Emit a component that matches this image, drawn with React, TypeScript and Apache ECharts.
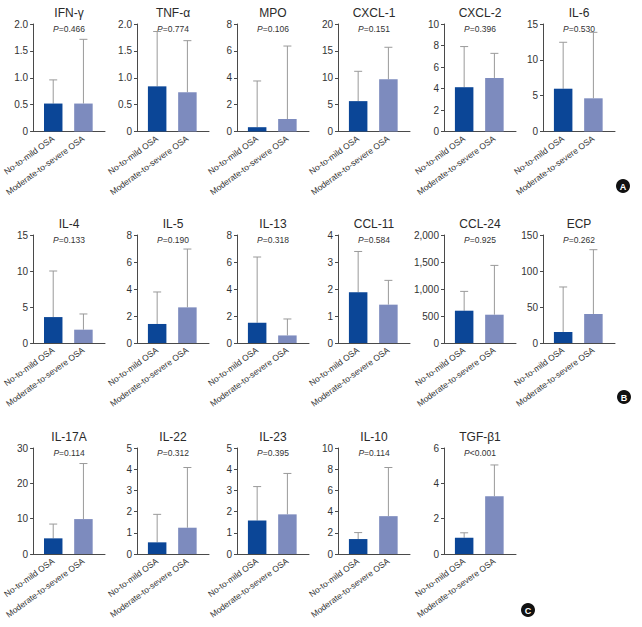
import React, { useEffect, useRef } from "react";
import * as echarts from "echarts";

// ---- data ----
const categories = ["No-to-mild OSA", "Moderate-to-severe OSA"];
const markers = ["IFN-γ", "TNF-α", "MPO", "CXCL-1", "CXCL-2", "IL-6", "IL-4", "IL-5", "IL-13", "CCL-11", "CCL-24", "ECP", "IL-17A", "IL-22", "IL-23", "IL-10", "TGF-β1"];
const mildMeans = [0.52, 0.84, 0.32, 5.65, 4.12, 5.97, 3.6, 1.41, 1.5, 1.88, 598, 15.3, 4.43, 0.55, 1.58, 1.41, 0.92];
const mildUpper = [0.96, 1.86, 3.76, 11.2, 7.9, 12.45, 10.0, 3.78, 6.37, 3.39, 956, 77.8, 8.47, 1.87, 3.18, 2.02, 1.2];
const severeMeans = [0.52, 0.73, 0.93, 9.7, 4.98, 4.63, 1.85, 2.64, 0.56, 1.42, 524, 40.3, 9.88, 1.24, 1.87, 3.57, 3.27];
const severeUpper = [1.715, 1.69, 6.36, 15.67, 7.27, 13.84, 4.03, 6.96, 1.78, 2.32, 1437, 129.6, 25.6, 4.08, 3.8, 8.16, 5.04];
const pValues = ["=0.466", "=0.774", "=0.106", "=0.151", "=0.396", "=0.530", "=0.133", "=0.190", "=0.318", "=0.584", "=0.925", "=0.262", "=0.114", "=0.312", "=0.395", "=0.114", "<0.001"];
const yMax = [2, 2, 8, 20, 10, 15, 15, 8, 8, 4, 2000, 150, 30, 5, 5, 10, 6];
const yStep = [0.5, 0.5, 2, 5, 2, 5, 5, 2, 2, 1, 500, 50, 10, 1, 1, 2, 2];
const panelLetters = ["A", "B", "C"];

// ---- layout / style ----
const ROW_TOP = [24, 235, 448];
const ROW_H = [107.5, 108, 106];
const COL_LEFT = [33, 137, 237, 338, 444, 543];
const GRID_W = 72;
const SLOT = [0.28, 0.7];
const LETTER_POS = [
  [623, 186],
  [624, 397],
  [528, 610],
];
const DARK = "#0b4697";
const LIGHT = "#7d8bbe";
const AXIS = "#4a4a4a";
const ERR = "#9a9a9a";
const FONT = "'Liberation Sans', Arial, Helvetica, sans-serif";

function fmtTick(i: number) {
  return (v: number) => {
    if (v === 0) return "0";
    if (yStep[i] < 1) return v.toFixed(1);
    if (v >= 1000) return v.toLocaleString("en-US");
    return String(v);
  };
}

export default function App() {
  const ref = useRef<HTMLDivElement>(null);
  useEffect(() => {
    if (!ref.current) return;
    const chart = echarts.init(ref.current, null, { renderer: "svg" });
    const grids: any[] = [];
    const xAxes: any[] = [];
    const yAxes: any[] = [];
    const series: any[] = [];
    const graphics: any[] = [];
    markers.forEach((name, i) => {
      const row = Math.floor(i / 6);
      const col = i % 6;
      const left = COL_LEFT[col];
      grids.push({ left, top: ROW_TOP[row], width: GRID_W, height: ROW_H[row], containLabel: false });
      xAxes.push({
        type: "value",
        gridIndex: i,
        min: 0,
        max: 1,
        splitLine: { show: false },
        axisLine: { show: true, lineStyle: { color: AXIS, width: 1 } },
        axisTick: { show: false },
        axisLabel: {
          customValues: SLOT,
          rotate: 36,
          margin: 6,
          fontSize: 8.5,
          color: "#333",
          fontFamily: FONT,
          formatter: (v: number) => (v < 0.5 ? categories[0] : categories[1]),
        },
      });
      yAxes.push({
        type: "value",
        gridIndex: i,
        min: 0,
        max: yMax[i],
        interval: yStep[i],
        splitLine: { show: false },
        axisLine: { show: true, lineStyle: { color: AXIS, width: 1 } },
        axisTick: { show: true, length: 3, lineStyle: { color: AXIS } },
        axisLabel: { fontSize: 10, color: "#333", margin: 5, fontFamily: FONT, formatter: fmtTick(i) },
      });
      series.push({
        type: "bar",
        xAxisIndex: i,
        yAxisIndex: i,
        barWidth: 18.5,
        data: [
          { value: [SLOT[0], mildMeans[i]], itemStyle: { color: DARK } },
          { value: [SLOT[1], severeMeans[i]], itemStyle: { color: LIGHT } },
        ],
      });
      series.push({
        type: "custom",
        xAxisIndex: i,
        yAxisIndex: i,
        data: [
          [SLOT[0], mildMeans[i], mildUpper[i]],
          [SLOT[1], severeMeans[i], severeUpper[i]],
        ],
        encode: { x: 0, y: [1, 2] },
        renderItem: (params: any, api: any) => {
          const x = api.value(0);
          const p0 = api.coord([x, api.value(1)]);
          const p1 = api.coord([x, api.value(2)]);
          return {
            type: "group",
            children: [
              { type: "line", shape: { x1: p0[0], y1: p0[1], x2: p1[0], y2: p1[1] }, style: { stroke: ERR, lineWidth: 1 } },
              { type: "line", shape: { x1: p1[0] - 4, y1: p1[1], x2: p1[0] + 4, y2: p1[1] }, style: { stroke: ERR, lineWidth: 1 } },
            ],
          };
        },
      });
      const cx = left + GRID_W / 2;
      graphics.push({
        type: "text",
        x: cx,
        y: ROW_TOP[row] - 11,
        style: { text: name, align: "center", verticalAlign: "middle", fontSize: 12, fontWeight: "normal", fill: "#2a2a2a", fontFamily: FONT },
      });
      graphics.push({
        type: "text",
        x: cx,
        y: ROW_TOP[row] + 4.5,
        style: {
          text: "{i|P}" + pValues[i],
          align: "center",
          verticalAlign: "middle",
          fontSize: 8.5,
          fill: "#333",
          fontFamily: FONT,
          rich: { i: { fontStyle: "italic", fontSize: 8.5, fill: "#333", fontFamily: FONT } },
        },
      });
    });
    panelLetters.forEach((L, k) => {
      graphics.push({
        type: "circle",
        shape: { cx: LETTER_POS[k][0], cy: LETTER_POS[k][1], r: 7 },
        style: { fill: "#111" },
      });
      graphics.push({
        type: "text",
        x: LETTER_POS[k][0],
        y: LETTER_POS[k][1] + 0.5,
        style: { text: L, align: "center", verticalAlign: "middle", fontSize: 9, fontWeight: "bold", fill: "#fff", fontFamily: FONT },
      });
    });
    chart.setOption({
      animation: false,
      backgroundColor: "#fff",
      grid: grids,
      xAxis: xAxes,
      yAxis: yAxes,
      series,
      graphic: graphics,
    });
    return () => chart.dispose();
  }, []);
  return <div ref={ref} style={{ position: "fixed", left: 0, top: 0, width: 642, height: 627 }} />;
}
